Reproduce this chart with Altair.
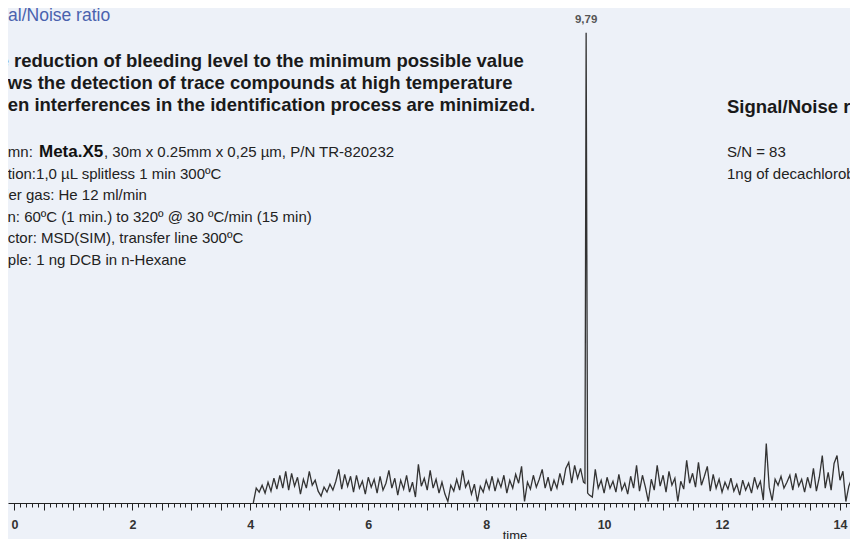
import altair as alt
import numpy as np
import pandas as pd

# ---- chromatogram data (time in min, abundance in % of peak scale) ----
noise_a = [  # 4.05 .. 9.65 min, 0.05 min step
    0.0, 3.0, 2.2, 3.6, 2.0, 4.2, 2.4, 5.0, 2.8, 5.6,
    3.0, 6.4, 2.6, 6.0, 3.4, 5.2, 1.8, 4.8, 3.0, 6.4,
    3.6, 4.6, 2.4, 1.4, 3.2, 2.2, 3.8, 2.6, 4.4, 6.8,
    2.8, 5.8, 3.4, 5.4, 2.2, 5.6, 3.0, 4.4, 1.8, 5.2,
    3.2, 4.8, 2.0, 5.4, 2.6, 4.0, 6.6, 3.0, 5.0, 1.6,
    4.6, 2.8, 5.6, 2.2, 4.2, 1.2, 7.8, 3.4, 5.0, 2.6,
    6.6, 3.0, 4.8, 2.0, 4.2, 1.8, 0.3, 3.6, 2.4, 4.8,
    2.6, 6.6, 3.2, 4.4, 1.8, 3.8, 0.3, 3.4, 2.2, 4.6,
    2.8, 5.4, 2.4, 4.8, 3.2, 5.6, 2.0, 4.6, 3.0, 5.8,
    4.0, 7.4, 0.3, 4.2, 2.8, 5.6, 3.2, 4.8, 6.8, 3.0,
    5.2, 2.4, 4.6, 3.0, 6.0, 3.6, 7.0, 8.2, 4.0, 7.6,
    5.0, 7.0, 4.2,
]
peak_t = [9.675, 9.695, 9.72]
peak_v = [4.0, 95.0, 2.0]
noise_b = [  # 9.75 .. 14.25 min, 0.05 min step
    1.6, 1.2, 6.8, 3.0, 4.6, 2.0,
    5.2, 3.0, 4.4, 2.2, 5.8, 2.6, 4.0, 1.8, 5.4, 3.0,
    7.6, 2.4, 5.6, 3.2, 0.3, 4.8, 2.6, 7.6, 3.4, 5.6,
    2.2, 6.4, 3.6, 5.0, 0.3, 4.4, 2.8, 8.6, 4.0, 6.0,
    3.2, 8.2, 3.6, 5.4, 7.4, 2.4, 5.8, 3.0, 4.8, 2.2,
    4.2, 2.8, 5.0, 2.4, 3.8, 1.6, 4.6, 2.6, 4.0, 2.0,
    5.2, 3.0, 4.4, 0.6, 12.0, 3.2, 0.5, 4.8, 3.6, 5.4,
    3.0, 4.2, 5.6, 2.6, 6.0, 3.4, 4.8, 2.2, 5.2, 3.0,
    7.0, 2.4, 5.2, 9.6, 3.0, 6.2, 2.6, 8.0, 9.6, 4.6,
    6.4, 0.3, 3.4, 5.0, 4.6,
]
peak_label = "9,79"
tick_values = [round(0.1 * i, 1) for i in range(0, 143)]

t_a = np.round(4.05 + 0.05 * np.arange(len(noise_a)), 3)
t_b = np.round(9.75 + 0.05 * np.arange(len(noise_b)), 3)
df = pd.DataFrame({
    "t": np.concatenate([t_a, peak_t, t_b]),
    "v": np.concatenate([noise_a, peak_v, noise_b]),
})
lab_df = pd.DataFrame({"t": [peak_t[1]], "v": [peak_v[1]], "label": [peak_label]})

FONT = "Liberation Sans"

xenc = alt.X(
    "t:Q",
    scale=alt.Scale(domain=[-0.11, 14.17], nice=False, zero=False),
    axis=alt.Axis(
        values=tick_values, title=None, grid=False,
        domainColor="#222222", domainWidth=1.2,
        tickColor="#222222", tickWidth=1,
        tickSize={"condition": {"test": "abs(datum.value*2 - round(datum.value*2)) < 0.001", "value": 7}, "value": 4},
        labelExpr="abs(datum.value/2 - round(datum.value/2)) < 0.001 ? format(datum.value, 'd') : ''",
        labelFont=FONT, labelFontWeight="bold", labelFontSize=12.5, labelColor="#333333",
        labelPadding=8, labelBaseline="top", labelOverlap=False, labelFlush=False,
    ),
)
yenc = alt.Y("v:Q", scale=alt.Scale(domain=[0, 100]), axis=None)

trace = alt.Chart(df).mark_line(color="#333333", strokeWidth=1.3, clip=True).encode(x=xenc, y=yenc)
plabel = alt.Chart(lab_df).mark_text(
    dy=-8, baseline="bottom", font=FONT, fontWeight="bold", fontSize=11.5, color="#555555"
).encode(x=xenc, y=yenc, text="label:N")


def txt(s, x, y, size, weight="normal", color="#1a1a1a", align="left"):
    return alt.Chart(alt.Data(values=[{}])).mark_text(
        text=s, align=align, baseline="alphabetic", font=FONT,
        fontSize=size, fontWeight=weight, color=color,
    ).encode(x=alt.value(x), y=alt.value(y))


texts = [
    txt("Signal/Noise ratio", -35, 13, 17.5, color="#4a62ae"),
    txt("The reduction of bleeding level to the minimum possible value", -32, 59, 18.5, "bold"),
    txt("allows the detection of trace compounds at high temperature", -32, 81, 18.5, "bold"),
    txt("when interferences in the identification process are minimized.", -26, 103, 18.5, "bold"),
    txt("Column: ", -31, 149, 15, color="#222222"),
    txt("Meta.X5", 31, 149, 17, "bold", color="#111111"),
    txt(", 30m x 0.25mm x 0,25 µm, P/N TR-820232", 96, 149, 15, color="#222222"),
    txt("Injection:1,0 µL splitless 1 min 300ºC", -32, 171, 15, color="#222222"),
    txt("Carrier gas: He 12 ml/min", -32, 192, 15, color="#222222"),
    txt("Oven: 60ºC (1 min.) to 320º @ 30 ºC/min (15 min)", -28, 214, 15, color="#222222"),
    txt("Detector: MSD(SIM), transfer line 300ºC", -32, 235, 15, color="#222222"),
    txt("Sample: 1 ng DCB in n-Hexane", -31, 257, 15, color="#222222"),
    txt("Signal/Noise ratio", 719, 105, 18.5, "bold"),
    txt("S/N = 83", 719, 149, 15, color="#222222"),
    txt("1ng of decachlorobiphenyl", 719, 171, 15, color="#222222"),
    txt("time", 507, 532, 13, color="#222222", align="center"),
]

chart = alt.layer(trace, plabel, *texts).properties(
    width=842, height=495,
    autosize=alt.AutoSizeParams(type="none"),
    padding={"left": 0, "top": 0, "right": 0, "bottom": 36},
    background="#edf1f8",
).configure_view(stroke=None)

chart.save("out.html", embed_options={"renderer": "svg", "actions": False})
